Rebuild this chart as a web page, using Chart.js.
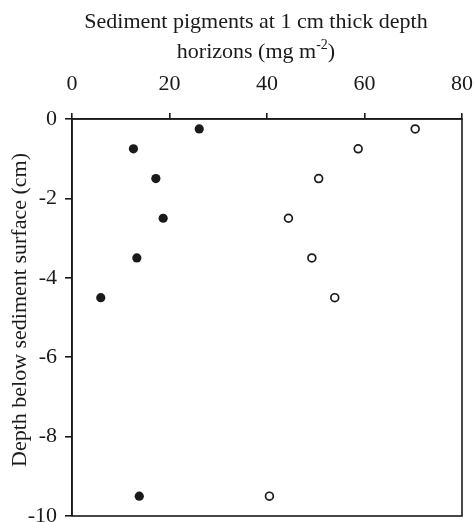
<!DOCTYPE html>
<html>
<head>
<meta charset="utf-8">
<script src="https://cdn.jsdelivr.net/npm/chart.js@4"></script>
<style>
html,body{margin:0;padding:0;background:#fff;}
#wrap{width:475px;height:522px;}
</style>
</head>
<body>
<div id="wrap"><canvas id="c" width="475" height="522"></canvas></div>
<script>
const depths = [-0.25, -0.75, -1.5, -2.5, -3.5, -4.5, -9.5];
const filledSeries = [26.1, 12.6, 17.2, 18.7, 13.3, 5.9, 13.8];
const openSeries = [70.4, 58.7, 50.6, 44.4, 49.2, 53.9, 40.5];
const xTicks = [0, 20, 40, 60, 80];
const yTicks = [0, -2, -4, -6, -8, -10];
const xTitleLine1 = 'Sediment pigments at 1 cm thick depth';
const xTitleLine2 = ['horizons (mg m', '-2', ')'];
const yTitle = 'Depth below sediment surface (cm)';

const FONT = "'Liberation Serif', 'Times New Roman', serif";
const INK = '#1a1a1a';

const frame = {
  id: 'frame',
  afterDatasetsDraw(chart) {
    const a = chart.chartArea, ctx = chart.ctx;
    ctx.save();
    ctx.strokeStyle = INK;
    ctx.lineWidth = 1.6;
    ctx.strokeRect(a.left, a.top, a.right - a.left, a.bottom - a.top);
    ctx.restore();
  }
};

const titles = {
  id: 'titles',
  afterDraw(chart) {
    const ctx = chart.ctx;
    ctx.save();
    ctx.fillStyle = INK;
    ctx.textBaseline = 'alphabetic';
    const cx = 256;
    ctx.font = '22px ' + FONT;
    ctx.textAlign = 'center';
    ctx.fillText(xTitleLine1, cx, 28);
    ctx.textAlign = 'left';
    const big = '22px ' + FONT, small = '14px ' + FONT;
    ctx.font = big; const w0 = ctx.measureText(xTitleLine2[0]).width;
    ctx.font = small; const w1 = ctx.measureText(xTitleLine2[1]).width;
    ctx.font = big; const w2 = ctx.measureText(xTitleLine2[2]).width;
    let x = cx - (w0 + w1 + w2) / 2;
    ctx.font = big; ctx.fillText(xTitleLine2[0], x, 58); x += w0;
    ctx.font = small; ctx.fillText(xTitleLine2[1], x, 49); x += w1;
    ctx.font = big; ctx.fillText(xTitleLine2[2], x, 58);
    ctx.translate(26, 310);
    ctx.rotate(-Math.PI / 2);
    ctx.textAlign = 'center';
    ctx.font = '22px ' + FONT;
    ctx.fillText(yTitle, 0, 0);
    ctx.restore();
  }
};

new Chart(document.getElementById('c'), {
  type: 'scatter',
  data: {
    datasets: [
      {
        data: depths.map((d, i) => ({x: filledSeries[i], y: d})),
        pointStyle: 'circle', pointRadius: 4.6,
        backgroundColor: INK, borderColor: INK, borderWidth: 0
      },
      {
        data: depths.map((d, i) => ({x: openSeries[i], y: d})),
        pointStyle: 'circle', pointRadius: 3.9,
        backgroundColor: '#fff', borderColor: INK, borderWidth: 1.7
      }
    ]
  },
  options: {
    responsive: false,
    animation: false,
    layout: {padding: {left: 0, right: 13, top: 0, bottom: 6}},
    plugins: {legend: {display: false}, tooltip: {enabled: false}},
    scales: {
      x: {
        type: 'linear', position: 'top', min: 0, max: 80,
        afterBuildTicks(s) { s.ticks = xTicks.map(v => ({value: v})); },
        afterFit(s) { s.height = 119; s.paddingLeft = 0; s.paddingRight = 0; },
        grid: {display: true, drawOnChartArea: false, drawTicks: true, tickLength: 6, color: INK, lineWidth: 1.6},
        border: {display: true, color: INK, width: 1.6},
        ticks: {color: INK, font: {family: FONT, size: 22}, padding: 16, maxRotation: 0},
        title: {display: false}
      },
      y: {
        type: 'linear', position: 'left', min: -10, max: 0,
        afterBuildTicks(s) { s.ticks = yTicks.map(v => ({value: v})); },
        afterFit(s) { s.width = 72; s.paddingTop = 0; s.paddingBottom = 0; },
        grid: {display: true, drawOnChartArea: false, drawTicks: true, tickLength: 7, color: INK, lineWidth: 1.6},
        border: {display: true, color: INK, width: 1.6},
        ticks: {color: INK, font: {family: FONT, size: 22}, padding: 8},
        title: {display: false}
      }
    }
  },
  plugins: [frame, titles]
});
</script>
</body>
</html>
